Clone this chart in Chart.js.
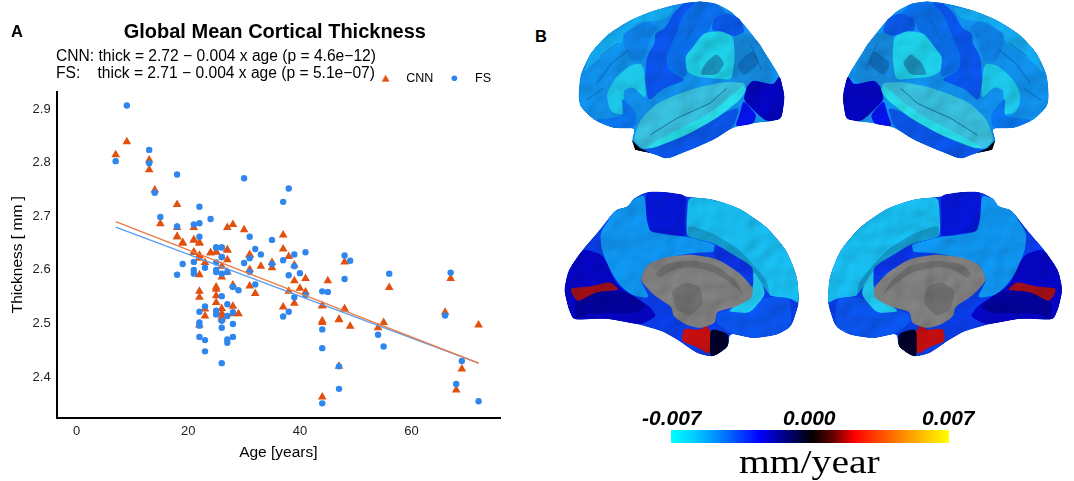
<!DOCTYPE html>
<html><head><meta charset="utf-8">
<style>
html,body{margin:0;padding:0;background:#fff;width:1074px;height:481px;overflow:hidden;font-family:"Liberation Sans",Arial,sans-serif}
#wrap{position:absolute;left:0;top:0;width:530px;height:481px}
.t{position:absolute;white-space:pre;color:#000}
svg{position:absolute;left:0;top:0}
#cb{position:absolute;left:671px;top:430px;width:278px;height:13px;background:linear-gradient(to right,#00ffff 0%,#00d0ff 8%,#0080ff 18%,#0000ff 32%,#000050 45%,#000 50.5%,#600000 58%,#ff0000 66%,#ff8000 82%,#ffd000 93%,#ffff00 100%)}
.cl{position:absolute;font:italic bold 21px "Liberation Sans",sans-serif;top:406px;color:#000}
</style></head><body>
<div id="wrap"><canvas id="c" width="530" height="481"></canvas></div>
<div class="t" style="left:11px;top:22px;font:bold 16.5px 'Liberation Sans'">A</div>
<div class="t" style="left:535px;top:27px;font:bold 16.5px 'Liberation Sans'">B</div>
<div class="t" style="left:56px;top:47px;font:15.6px 'Liberation Sans'">CNN:</div>
<div class="t" style="left:98.5px;top:47px;font:15.6px 'Liberation Sans'">thick = 2.72 − 0.004 x age (p = 4.6e−12)</div>
<div class="t" style="left:56px;top:64px;font:15.6px 'Liberation Sans'">FS:</div>
<div class="t" style="left:97.5px;top:64px;font:15.6px 'Liberation Sans'">thick = 2.71 − 0.004 x age (p = 5.1e−07)</div>
<svg width="1074" height="481" viewBox="0 0 1074 481">
<defs>
<filter id="bump" filterUnits="userSpaceOnUse" x="530" y="0" width="544" height="390" color-interpolation-filters="sRGB">
<feTurbulence type="fractalNoise" baseFrequency="0.045" numOctaves="2" seed="7" result="n"/>
<feDiffuseLighting in="n" surfaceScale="1.6" lighting-color="#fff" result="l"><feDistantLight azimuth="235" elevation="65"/></feDiffuseLighting>
<feComposite in="SourceGraphic" in2="l" operator="arithmetic" k1="1.08" k2="0" k3="0" k4="0" result="m"/>
<feComposite in="m" in2="SourceGraphic" operator="in" result="c"/>
<feGaussianBlur in="c" stdDeviation="0.35"/>
</filter>
<g id="lat">
<path fill="#1090ec" d="M115 290L120 225L150 160L200 105L270 60L350 28L420 10L480 3L530 10L575 35L610 70L650 120L690 180L720 230L735 290L725 355L690 365L640 370L580 382L520 420L450 450L380 478L340 460L290 450L275 420L285 385L220 385L160 360L120 320Z"/>
<path fill="#14aaf0" d="M150 160L200 105L270 60L350 28L405 22L380 55L350 62L300 65L255 100L250 125L200 160L160 190L130 220Z"/>
<path fill="#0e80e6" d="M250 100L320 62L355 80L335 105L310 185L270 180L250 130Z"/>
<path fill="#1dc8ea" d="M200 280L225 235L270 195L310 190L320 300L280 260L250 270L255 345L220 340L205 320Z"/>
<path fill="#0a75ee" d="M245 290L290 340L285 385L220 385L160 360L250 350Z"/>
<path fill="#0a55ee" d="M345 100L375 85L400 40L430 10L470 5L430 45L410 100L380 170L385 210L440 240L370 265L325 305L315 240L320 170L345 130Z"/>
<path fill="#0a6ee8" d="M470 3L530 10L560 40L520 55L510 90L470 120L440 170L440 235L385 210L380 170L410 100L430 45Z"/>
<path fill="#0958e8" d="M520 55L560 38L600 55L615 95L590 110L555 100L515 92Z"/>
<path fill="#1486d8" d="M580 110L620 95L660 130L690 190L700 250L640 240L620 260L575 240Z"/>
<path fill="#0f6cb8" d="M590 190L640 150L660 190L610 230Z"/>
<path fill="#1ecfe8" d="M490 100L540 92L580 110L585 170L575 240L520 235L470 230L440 215L435 170L460 140Z"/>
<path fill="#1a90b8" d="M495 190L530 160L555 190L530 225L480 225Z"/>
<path fill="#0404c0" d="M640 240L700 255L720 225L735 290L725 358L680 365L650 340L610 300L620 260Z"/>
<path fill="#0512e8" d="M610 300L650 345L640 372L585 380L600 340Z"/>
<path fill="#0a55e8" d="M285 450L340 430L440 405L520 350L600 320L580 382L520 420L450 450L380 478L340 462Z"/>
<path fill="#38bedc" d="M280 420L300 360L350 310L420 280L480 260L560 245L620 250L600 300L530 350L450 400L380 425L310 450Z"/>
<path fill="#28dce8" d="M310 445L400 395L500 345L560 300L610 255L620 270L600 300L530 355L440 405L340 445Z"/>
<path class="open" fill="none" stroke="#1a6f9c" stroke-width="3" d="M330 405L410 355L510 310L560 265"/>
<path class="open" fill="none" stroke="#0a5cae" stroke-opacity=".5" stroke-width="4" d="M170 250L215 190L265 150M140 300L190 265M180 170L235 130M355 240L370 160L400 90M440 120L470 60M630 130L665 210"/>
<path class="open" fill="#000" d="M275 420L285 450L330 458L300 445Z"/>
</g>
<g id="med">
<path fill="#0a3de8" d="M72 360L85 300L130 235L175 185L225 120L265 110L280 85L320 65L370 65L440 80L520 88L600 115L680 170L740 240L772 320L778 400L755 470L710 495L640 505L570 490L565 530L530 555L510 560L470 550L420 515L370 485L300 465L200 445L100 450L85 415Z"/>
<path fill="#18bdf0" d="M445 80L520 88L600 115L680 170L740 240L772 320L778 400L750 385L690 378L685 365L640 320L640 300L530 220L440 200L440 150Z"/>
<path fill="#1398c8" d="M445 165L520 190L600 240L680 330L690 378L640 300L530 220L440 200Z"/>
<path fill="#0516d8" d="M320 65L370 65L440 75L435 150L440 200L370 190L330 185L320 150L315 100Z"/>
<path fill="#0f95f0" d="M265 110L280 85L315 75L320 150L330 185L380 195L440 200L525 222L530 245L450 250L370 265L320 285L300 330L330 385L270 375L235 340L210 300L185 240L180 190L225 120Z"/>
<path fill="#0a30e0" d="M525 222L640 290L635 325L530 265L520 250Z"/>
<path fill="#0a55ee" d="M530 430L690 380L750 385L755 470L710 495L640 505L570 490L530 460Z"/>
<path fill="#20c8ee" d="M640 300L680 370L630 430L560 425L620 385L640 350Z"/>
<path fill="#0505c4" d="M72 360L85 300L130 235L190 255L230 345L330 410L350 440L300 465L200 445L100 450L85 415Z"/>
<path fill="#02029a" d="M105 395L170 360L260 365L325 410L280 430L150 430L105 450Z"/>
<path fill="#a00f18" d="M90 355L150 350L210 335L240 360L170 365L115 395L100 380Z"/>
<path fill="#c20e10" d="M430 475L480 480L500 465L515 490L510 555L470 530L425 515Z"/>
<path fill="#00002a" d="M510 475L565 490L565 530L530 555L510 560Z"/>
<path fill="#808080" d="M300 330L320 285L370 262L450 253L530 265L600 310L640 355L635 385L590 410L530 425L525 460L480 475L440 465L400 440L395 410L340 375Z"/>
<path fill="#6e6e6e" d="M345 310L380 280L450 270L530 285L590 335L610 375L575 340L520 305L450 290L395 300L360 325ZM395 360L440 335L480 350L490 400L450 440L410 420L400 390Z"/>
</g>
</defs>
<g filter="url(#bump)">
<use href="#lat" transform="translate(540 0) scale(.3333)"/>
<use href="#lat" transform="translate(1087.3 0) scale(-.3333 .3333)"/>
<use href="#med" transform="translate(540 170) scale(.3333)"/>
<use href="#med" transform="translate(1086.7 170) scale(-.3333 .3333)"/>
</g>
</svg>
<div id="cb"></div>
<div class="cl" style="left:642px">-0.007</div>
<div class="cl" style="left:783px">0.000</div>
<div class="cl" style="left:922px">0.007</div>
<div class="t" style="left:739px;top:444px;font:33px 'Liberation Serif';transform:scaleX(1.2);transform-origin:left top">mm/year</div>
<script>
// Soften the corners of the hand-traced brain regions
document.querySelectorAll('defs g path:not(.open)').forEach(p=>{
  const subs=p.getAttribute('d').split('Z').filter(s=>s.trim());
  p.setAttribute('d',subs.map(s=>{
    const pts=s.replace('M','').split('L').map(q=>q.trim().split(/\s+/).map(Number));
    const n=pts.length, lerp=(a,b,t)=>[a[0]+(b[0]-a[0])*t,a[1]+(b[1]-a[1])*t];
    let d='';
    pts.forEach((q,i)=>{
      const a=lerp(q,pts[(i+n-1)%n],.28), b=lerp(q,pts[(i+1)%n],.28);
      d+=(i?'L':'M')+a.join(' ')+'Q'+q.join(' ')+' '+b.join(' ');
    });
    return d+'Z';
  }).join(''));
});
</script>
<script src="https://cdn.jsdelivr.net/npm/chart.js@4"></script>
<script>
const chartTitle = "Global Mean Cortical Thickness";
const xLabel = "Age [years]";
const yLabel = "Thickness [ mm ]";
const xTicks = [0, 20, 40, 60];
const yTicks = [2.4, 2.5, 2.6, 2.7, 2.8, 2.9];

const cnnAge = [9,7,13,13,14,18,15,18,21,27,28,30,18,19,21,22,21,22,24,25,27,31,18,19,21,22,21,22,24,25,27,27,22,23,26,31,35,33,35,31,22,26,27,31,28,32,25,25,22,25,22,25,28,26,23,26,23,26,28,29,26,22,37,37,38,39,39,41,45,48,38,40,41,39,37,44,48,47,44,56,67,44,48,66,44,47,49,55,54,72,47,69,68,44];
const cnnThick = [2.839,2.815,2.805,2.787,2.749,2.722,2.686,2.679,2.679,2.679,2.685,2.675,2.662,2.651,2.656,2.651,2.633,2.627,2.632,2.634,2.637,2.627,2.662,2.65,2.656,2.65,2.633,2.627,2.632,2.633,2.637,2.619,2.622,2.614,2.607,2.629,2.614,2.607,2.604,2.601,2.591,2.587,2.596,2.57,2.572,2.556,2.568,2.564,2.56,2.552,2.549,2.539,2.532,2.528,2.527,2.519,2.514,2.512,2.518,2.518,2.508,2.497,2.665,2.639,2.625,2.609,2.58,2.584,2.58,2.615,2.56,2.566,2.559,2.538,2.531,2.533,2.527,2.508,2.505,2.567,2.584,2.533,2.527,2.521,2.502,2.507,2.495,2.502,2.492,2.497,2.42,2.415,2.376,2.363];

const fsAge = [9,7,13,13,18,14,22,30,15,18,21,22,24,22,25,26,26,31,35,25,26,32,33,26,31,19,21,25,30,35,23,18,21,21,25,25,26,27,31,32,28,29,26,27,23,22,25,25,28,27,26,22,22,28,26,22,28,23,27,27,23,26,38,37,39,41,48,49,37,39,40,38,48,44,45,39,41,38,37,56,67,66,44,54,44,55,47,69,47,68,44,72];
const fsThick = [2.907,2.803,2.824,2.799,2.778,2.744,2.718,2.771,2.699,2.681,2.685,2.687,2.695,2.662,2.642,2.642,2.624,2.662,2.656,2.642,2.642,2.639,2.629,2.624,2.622,2.611,2.615,2.614,2.613,2.611,2.604,2.591,2.6,2.593,2.6,2.596,2.593,2.596,2.596,2.573,2.568,2.562,2.551,2.536,2.532,2.522,2.524,2.517,2.521,2.514,2.505,2.502,2.496,2.499,2.492,2.475,2.475,2.469,2.47,2.464,2.448,2.426,2.752,2.727,2.629,2.633,2.627,2.617,2.618,2.607,2.594,2.59,2.583,2.56,2.559,2.549,2.553,2.522,2.513,2.593,2.595,2.515,2.489,2.479,2.454,2.457,2.42,2.43,2.378,2.387,2.351,2.355];

const fitAge = [7, 72];
const cnnFit = [2.69, 2.426];
const fsFit = [2.68, 2.426];

const xyPairs = (xs, ys) => xs.map((x, i) => ({x, y: ys[i]}));
const CNN = '#e2500f', FS = '#2f87ee';

const nudge = {id:'nudge', afterLayout(chart){
  chart.legend.right += 8; chart.legend.top += 3;
  chart.titleBlock.right -= 7;
}};

// Legend triangle glyph, drawn at the reference's larger size
const legendTri = document.createElement('canvas');
legendTri.width = 9; legendTri.height = 8;
(c=>{c.fillStyle=CNN;c.beginPath();c.moveTo(4.5,0.5);c.lineTo(8.5,7.5);c.lineTo(0.5,7.5);c.fill();})(legendTri.getContext('2d'));

new Chart(document.getElementById('c'), {
  type: 'scatter',
  plugins:[nudge],
  data: {datasets: [
    {label:'CNN', data:xyPairs(cnnAge,cnnThick), pointStyle:'triangle', pointRadius:5, backgroundColor:CNN, borderColor:CNN, borderWidth:0, order:2},
    {label:'FS', data:xyPairs(fsAge,fsThick), pointStyle:'circle', pointRadius:3.2, backgroundColor:FS, borderColor:FS, borderWidth:0, order:1},
    {type:'line', label:'CNN fit', data:xyPairs(fitAge,cnnFit), borderColor:'#ea7a45', borderWidth:1.3, pointRadius:0, order:0},
    {type:'line', label:'FS fit', data:xyPairs(fitAge,fsFit), borderColor:'#5a9cf0', borderWidth:1.3, pointRadius:0, order:0}
  ]},
  options: {
    responsive:false, animation:false, devicePixelRatio:1,
    layout:{padding:{top:20,left:8,right:30,bottom:19}},
    plugins:{
      title:{display:true,text:chartTitle,fullSize:false,color:'#000',font:{family:'Liberation Sans',size:20,weight:'bold'},padding:{top:0,bottom:8}},
      legend:{display:true,position:'top',align:'end',fullSize:false,
        labels:{color:'#000',font:{family:'Liberation Sans',size:12.5},usePointStyle:true,boxHeight:4,boxWidth:8,padding:17,
          generateLabels(chart){
            return Chart.defaults.plugins.legend.labels.generateLabels(chart)
              .filter(i=>i.text==='CNN'||i.text==='FS')
              .sort((a,b)=>a.datasetIndex-b.datasetIndex)
              .map(i=>Object.assign(i,{text:'   '+i.text},i.text==='CNN'?{pointStyle:legendTri}:{}));
          }}},
      tooltip:{enabled:false}
    },
    scales:{
      x:{type:'linear',min:-3.57,max:75.84,
        afterBuildTicks:a=>{a.ticks=xTicks.map(v=>({value:v}))},
        grid:{display:false,drawTicks:true,tickLength:4,tickColor:'#333'},
        border:{display:true,color:'#000',width:2},
        ticks:{color:'#222',font:{family:'Liberation Sans',size:13},padding:2,autoSkip:false,maxRotation:0,callback:v=>String(v)},
        title:{display:true,text:xLabel,color:'#000',font:{family:'Liberation Sans',size:15.5},padding:{top:2,bottom:0}}},
      y:{type:'linear',min:2.324,max:2.933,
        afterBuildTicks:a=>{a.ticks=yTicks.map(v=>({value:v}))},
        grid:{display:false,drawTicks:true,tickLength:4,tickColor:'#333'},
        border:{display:true,color:'#000',width:2},
        ticks:{color:'#222',font:{family:'Liberation Sans',size:13},padding:2,autoSkip:false,callback:v=>v.toFixed(1)},
        title:{display:true,text:yLabel,color:'#000',font:{family:'Liberation Sans',size:15.5},padding:{top:0,bottom:4}}}
    }
  }
});
</script>
</body></html>
